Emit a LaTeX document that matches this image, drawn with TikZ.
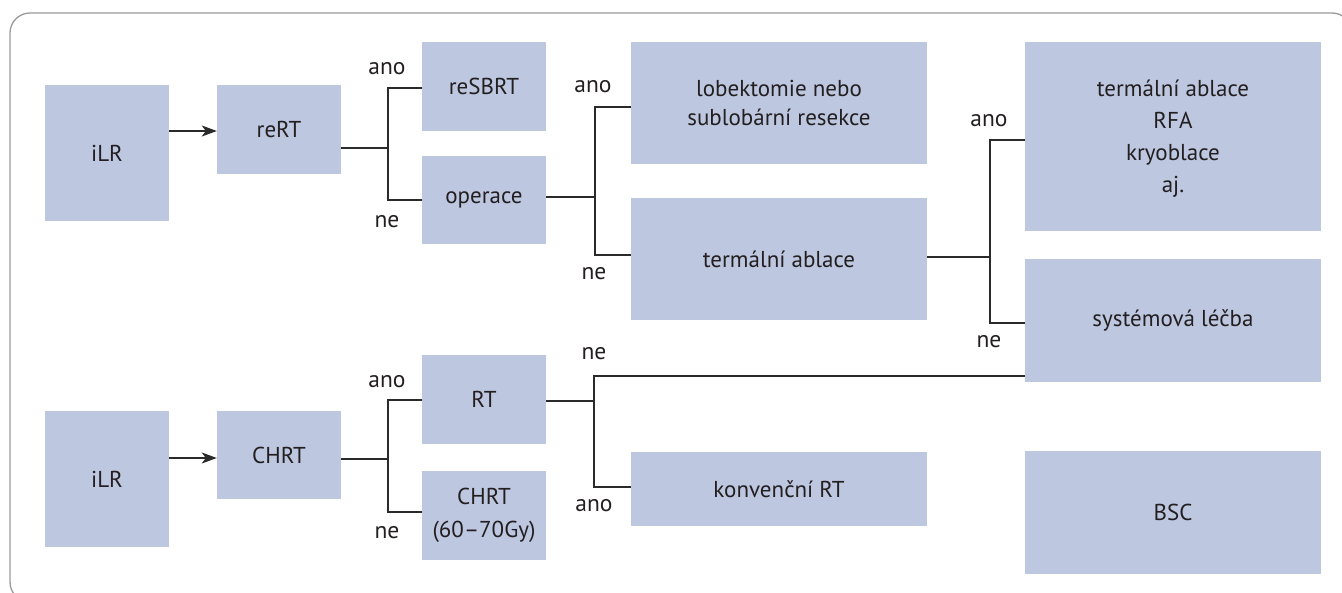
\documentclass[tikz,border=0pt]{standalone}
\usepackage{fontspec}
\setmainfont{PT Sans}
\usetikzlibrary{arrows.meta}
\definecolor{boxfill}{HTML}{BDC7E0}
\definecolor{txt}{HTML}{231F20}
\definecolor{lin}{HTML}{2A2A2A}
\definecolor{frame}{HTML}{9A9A9A}
\tikzset{
  box/.style={fill=boxfill, draw=none, inner sep=0pt, align=center, text=txt,
    font=\fontsize{23}{32}\selectfont},
  lab/.style={text=txt, inner sep=0pt, font=\fontsize{23.5}{26}\selectfont},
  conn/.style={draw=lin, line width=1.3pt},
  arr/.style={conn, -{Stealth[length=15pt,width=11pt,inset=4pt]}},
}
\begin{document}
\begin{tikzpicture}[x=1pt,y=-1pt]
\useasboundingbox (0,0) rectangle (1342,592);
\draw[frame, line width=1.3pt, rounded corners=20pt] (10,13) rectangle (1352,602);

% boxes
\node[box, minimum width=124pt, minimum height=136pt] (ilr1) at (107,153) {iLR};
\node[box, minimum width=124pt, minimum height=89pt] (rert) at (279,129.5) {reRT};
\node[box, minimum width=124pt, minimum height=89pt] (resbrt) at (484,86.5) {reSBRT};
\node[box, minimum width=124pt, minimum height=88pt] (operace) at (484,200) {operace};
\node[box, minimum width=296pt, minimum height=122pt, font=\fontsize{23}{29}\selectfont] (lobek) at (779,103) {lobektomie nebo\\sublobární resekce};
\node[box, minimum width=296pt, minimum height=122pt] (term) at (779,259) {termální ablace};
\node[box, minimum width=296pt, minimum height=189pt, text depth=0pt] (rfa) at (1173,136.5) {termální ablace\\RFA\\kryoblace\\aj.};
\node[box, minimum width=296pt, minimum height=123pt] (syst) at (1173,320.5) {systémová léčba};
\node[box, minimum width=124pt, minimum height=136pt] (ilr2) at (107,479) {iLR};
\node[box, minimum width=124pt, minimum height=88pt] (chrt) at (279,455) {CHRT};
\node[box, minimum width=124pt, minimum height=89pt] (rt) at (484,399.5) {RT};
\node[box, minimum width=124pt, minimum height=89pt, font=\fontsize{23}{33}\selectfont] (chrt2) at (484,515.5) {CHRT\\(60–70Gy)};
\node[box, minimum width=296pt, minimum height=74pt] (konv) at (779,489) {konvenční RT};
\node[box, minimum width=296pt, minimum height=123pt] (bsc) at (1173,512.5) {BSC};

% branch points
\coordinate (r1) at (0,131);
\coordinate (r2) at (0,458);
\coordinate (t1) at (388,148);
\coordinate (a1) at (388,88);
\coordinate (n1) at (388,200);
\coordinate (t2) at (595,197);
\coordinate (a2) at (595,107);
\coordinate (n2) at (595,255);
\coordinate (t3) at (990,257);
\coordinate (a3) at (990,140);
\coordinate (n3) at (990,323);
\coordinate (t4) at (388,459);
\coordinate (a4) at (388,400);
\coordinate (n4) at (388,512);
\coordinate (t5) at (594,401);
\coordinate (n5) at (594,376);
\coordinate (a5) at (594,487);

% arrows
\draw[arr] (ilr1.east |- r1) -- (rert.west |- r1);
\draw[arr] (ilr2.east |- r2) -- (chrt.west |- r2);

% branches
\draw[conn] (rert.east |- t1) -- (t1);
\draw[conn] (resbrt.west |- a1) -- (a1) -- (n1) -- (operace.west |- n1);
\draw[conn] (operace.east |- t2) -- (t2);
\draw[conn] (lobek.west |- a2) -- (a2) -- (n2) -- (term.west |- n2);
\draw[conn] (term.east |- t3) -- (t3);
\draw[conn] (rfa.west |- a3) -- (a3) -- (n3) -- (syst.west |- n3);
\draw[conn] (chrt.east |- t4) -- (t4);
\draw[conn] (rt.west |- a4) -- (a4) -- (n4) -- (chrt2.west |- n4);
\draw[conn] (rt.east |- t5) -- (t5);
\draw[conn] (syst.west |- n5) -- (n5) -- (a5) -- (konv.west |- a5);

% labels
\node[lab] (l1) at (387,69) {ano};
\node[lab] (l2) at (387,222) {ne};
\node[lab] (l3) at (593,87) {ano};
\node[lab] (l4) at (594,274) {ne};
\node[lab] (l5) at (989,121) {ano};
\node[lab] (l6) at (989,342) {ne};
\node[lab] (l7) at (387,382) {ano};
\node[lab] (l8) at (387,533) {ne};
\node[lab] (l9) at (594,354) {ne};
\node[lab] (l10) at (594,506) {ano};
\end{tikzpicture}
\end{document}
